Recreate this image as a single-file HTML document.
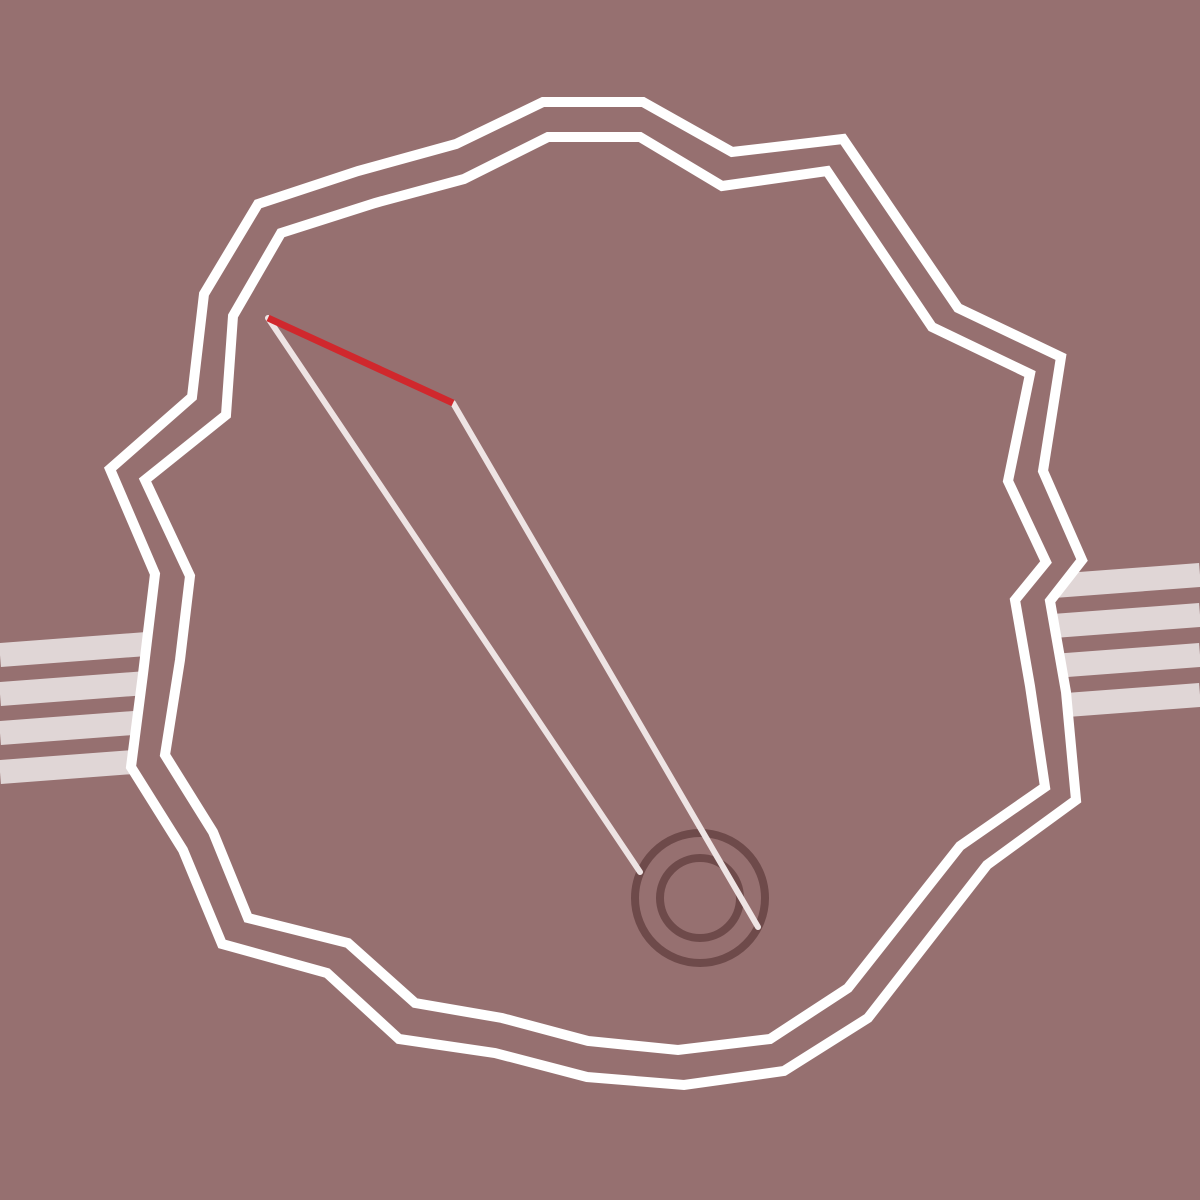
<!DOCTYPE html>
<html><head><meta charset="utf-8"><title>Dial</title>
<style>html,body{margin:0;padding:0;background:#967070;}svg{display:block}</style>
</head><body>
<svg id="art" width="1200" height="1200" viewBox="0 0 1200 1200">
<rect width="1200" height="1200" fill="#967070"/>
</svg>
<script>
const outerPts = [[543,102],[643,102],[732,152],[843,139],[958,308],[1061,357],[1043,471],[1082,560],[1050,601],[1066,692],[1076,800],[987,865],[868,1018],[784,1071],[684,1085],[587,1077],[495,1053],[399,1039],[327,973],[222,944],[183,850],[131,767],[143,674],[155,574],[110,469],[192,397],[204,294],[258,204],[358,171],[456,144]];
const innerPts = [[548,137],[640,137],[722,186],[827,171],[932,327],[1030,374],[1008,481],[1046,562],[1015,600],[1030,686],[1045,787],[960,846],[848,988],[770,1039],[678,1050],[588,1041],[502,1018],[415,1003],[348,943],[248,918],[213,832],[165,755],[180,660],[190,576],[145,480],[226,415],[233,316],[281,233],[375,203],[464,179]];
const leftStripesY = [655,694,733,772];
const rightStripesY = [575,615,655,695];
const svg = document.getElementById('art');
const NS = 'http://www.w3.org/2000/svg';
function mk(tag, attrs){const e=document.createElementNS(NS,tag);for(const k in attrs)e.setAttribute(k,attrs[k]);svg.appendChild(e);return e;}
leftStripesY.forEach(y=>{
  const e=mk('line',{x1:0,y1:y,x2:160,y2:y-12,stroke:'#e0d6d6','stroke-width':24});
  
  
});
rightStripesY.forEach(y=>{
  const e=mk('line',{x1:1040,y1:y+12,x2:1200,y2:y,stroke:'#e0d6d6','stroke-width':24});
  
  
});
const o=mk('polygon',{points:outerPts.map(p=>p.join(',')).join(' '),fill:'#967070',stroke:'#ffffff','stroke-width':10});


const i=mk('polygon',{points:innerPts.map(p=>p.join(',')).join(' '),fill:'none',stroke:'#ffffff','stroke-width':10});


const c1=mk('circle',{cx:700,cy:898,r:65,fill:'none',stroke:'#6e4a4a','stroke-width':8});


const c2=mk('circle',{cx:700,cy:898,r:40,fill:'none',stroke:'#6e4a4a','stroke-width':8});


const n1=mk('line',{x1:268,y1:318,x2:640,y2:872,stroke:'#eee4e4','stroke-width':6,'stroke-linecap':'round'});


const n2=mk('line',{x1:453,y1:403,x2:758,y2:927,stroke:'#eee4e4','stroke-width':6,'stroke-linecap':'round'});


const r=mk('line',{x1:268,y1:318,x2:453,y2:403,stroke:'#d0282d','stroke-width':7});


</script>
</body></html>
